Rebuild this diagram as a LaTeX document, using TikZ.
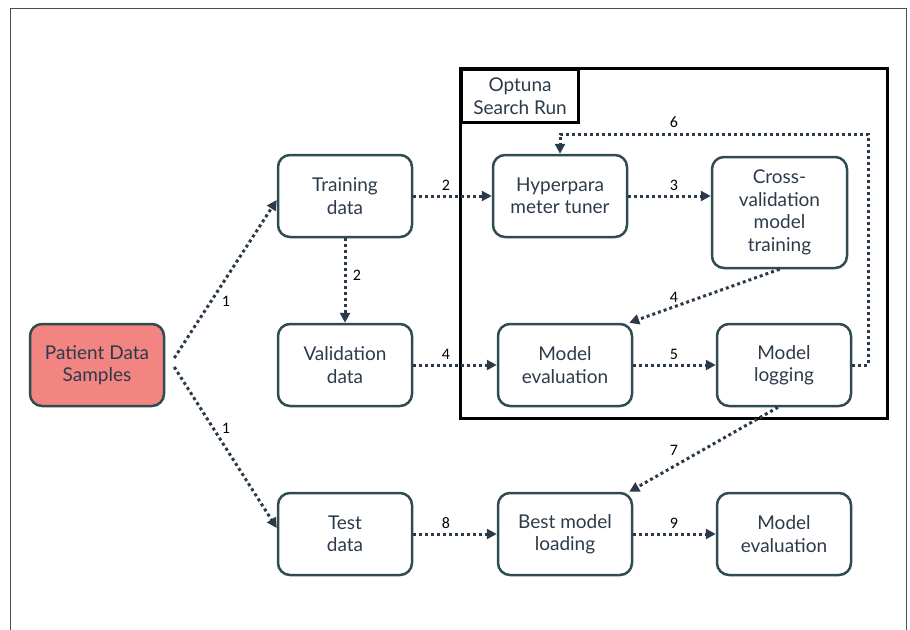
\documentclass[tikz,border=0pt]{standalone}
\usepackage{fontspec}
\setmainfont{Lato}
\newfontfamily\lblfont{Carlito}
\usetikzlibrary{arrows.meta}
\definecolor{boxc}{HTML}{2F4C50}
\definecolor{textc}{HTML}{2C3A4A}
\definecolor{arrc}{HTML}{2B3A4B}
\definecolor{salmon}{HTML}{F28481}
\begin{document}
\begin{tikzpicture}[x=1pt,y=-1pt,
  box/.style={draw=boxc, line width=2.5pt, rounded corners=12pt, minimum width=134pt, minimum height=82pt,
    align=center, inner sep=0pt, text=textc, font=\fontsize{19}{22.5}\selectfont},
  arr/.style={draw=arrc, line width=3pt, dash pattern=on 3pt off 3pt, -{Triangle[length=10pt,width=10pt]}},
  lbl/.style={font=\lblfont\fontsize{16}{17}\selectfont, text=black, inner sep=0pt}]
\useasboundingbox (0,0) rectangle (910,629);
\draw[draw=black!70, line width=1pt] (10.5,640) -- (10.5,8.5) -- (906,8.5) -- (906,640);
% Optuna frame
\draw[line width=3pt] (460,68) rectangle (887,418);
\node[draw, line width=3pt, minimum width=117pt, minimum height=53pt, anchor=north west, align=center,
  inner sep=0pt, text=textc, font=\fontsize{19}{22.5}\selectfont] (opt) at (460,68) {Optuna\\Search Run};
% boxes
\node[box, fill=salmon] (pat) at (97,365) {Patient Data\\Samples};
\node[box] (train) at (345,196) {Training\\data};
\node[box] (val) at (345,365) {Validation\\data};
\node[box] (test) at (345,534) {Test\\data};
\node[box] (hyp) at (560,196) {Hyperpara\\meter tuner};
\node[box, minimum height=111pt, minimum width=135pt] (cross) at (779.5,212.5) {Cross-\\validation\\model\\training};
\node[box] (meval) at (565,365) {Model\\evaluation};
\node[box] (mlog) at (784,365) {Model\\logging};
\node[box] (best) at (565,534) {Best model\\loading};
\node[box] (meval2) at (784,534) {Model\\evaluation};
% arrows
\draw[arr] ([shift={(9,-7)}]pat.east) -- ([shift={(0,4)}]train.west);
\draw[arr] ([shift={(9,2)}]pat.east) -- ([shift={(0,-6)}]test.west);
\draw[arr] (train.south) -- (val.north);
\draw[arr] (train.east) -- (hyp.west);
\draw[arr] (hyp.east) -- (cross.west |- hyp.east);
\draw[arr] (cross.south) -- ([xshift=-4pt]meval.north east);
\draw[arr] (val.east) -- (meval.west);
\draw[arr] (meval.east) -- (mlog.west);
\coordinate (c1) at (868,365);
\coordinate (c2) at (868,134);
\draw[arr] (mlog.east) -- (c1) -- (c2) -- (hyp.north |- c2) -- (hyp.north);
\draw[arr] ([xshift=-6pt]mlog.south) -- ([xshift=-4pt]best.north east);
\draw[arr] (test.east) -- (best.west);
\draw[arr] (best.east) -- (meval2.west);
% labels
\node[lbl] (l1a) at (226,301) {1};
\node[lbl] (l1b) at (226,428) {1};
\node[lbl] (l2a) at (357,275) {2};
\node[lbl] (l2b) at (446,185) {2};
\node[lbl] (l3) at (674,185) {3};
\node[lbl] (l4a) at (674,297) {4};
\node[lbl] (l4b) at (446,354) {4};
\node[lbl] (l5) at (674,354) {5};
\node[lbl] (l6) at (674,122) {6};
\node[lbl] (l7) at (674,450) {7};
\node[lbl] (l8) at (446,523) {8};
\node[lbl] (l9) at (674,523) {9};
\end{tikzpicture}
\end{document}
